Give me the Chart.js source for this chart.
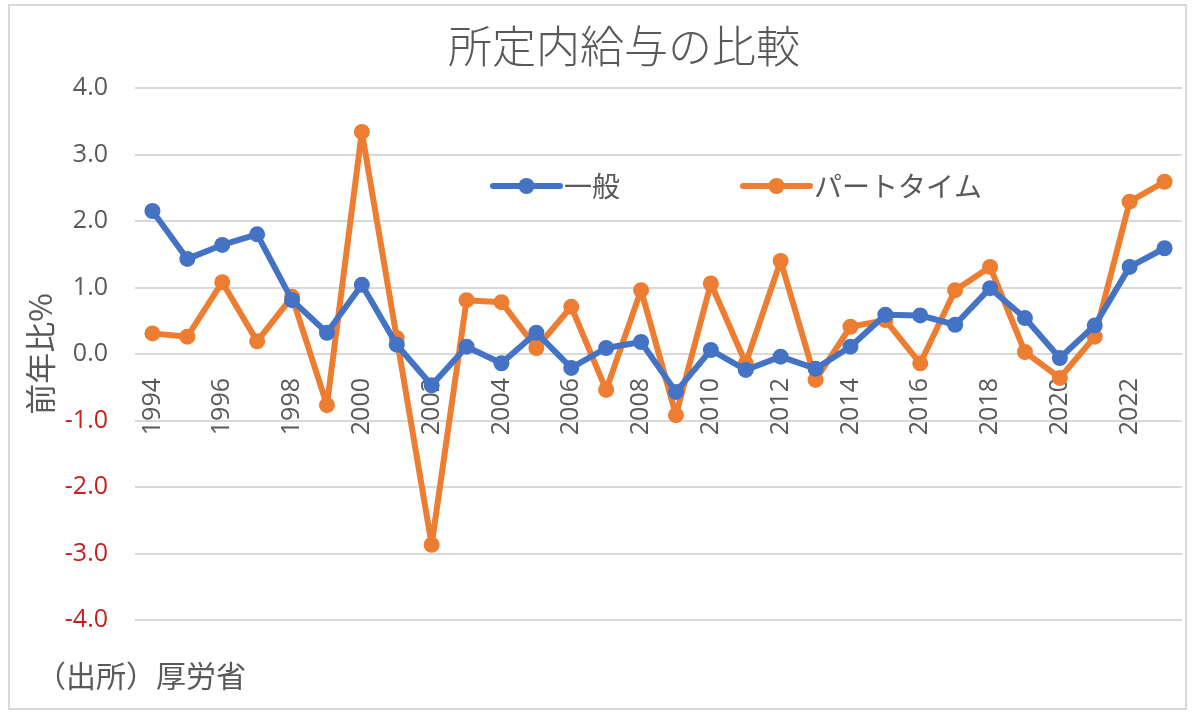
<!DOCTYPE html>
<html>
<head>
<meta charset="utf-8">
<script src="https://cdn.jsdelivr.net/npm/chart.js@4/dist/chart.umd.min.js"></script>
<style>
html,body{margin:0;padding:0;background:#fff;}
#wrap{width:1200px;height:715px;position:relative;}
</style>
</head>
<body>
<div id="wrap"><canvas id="c" width="1200" height="715"></canvas></div>
<script>
const years = ['1994','1995','1996','1997','1998','1999','2000','2001','2002','2003','2004','2005','2006','2007','2008','2009','2010','2011','2012','2013','2014','2015','2016','2017','2018','2019','2020','2021','2022','2023'];
const generalValues = [2.15,1.43,1.64,1.80,0.81,0.32,1.04,0.14,-0.47,0.11,-0.14,0.32,-0.21,0.09,0.18,-0.57,0.06,-0.24,-0.04,-0.22,0.11,0.59,0.58,0.44,0.99,0.54,-0.06,0.43,1.31,1.59];
const partValues = [0.31,0.26,1.08,0.19,0.86,-0.77,3.34,0.24,-2.87,0.81,0.78,0.09,0.71,-0.54,0.96,-0.92,1.06,-0.14,1.40,-0.39,0.41,0.51,-0.14,0.96,1.31,0.03,-0.36,0.26,2.29,2.59];
const seriesNames = ['一般','パートタイム'];
const shownYearLabels = ['1994','1996','1998','2000','2002','2004','2006','2008','2010','2012','2014','2016','2018','2020','2022'];
const titleText = '所定内給与の比較';
const yAxisTitle = '前年比%';
const sourceText = '（出所）厚労省';

const BLUE = '#4472C4', ORANGE = '#ED7D31', GRAY = '#595959', RED = '#C81E1E';
const JP = '"Noto Sans CJK JP","Noto Sans",sans-serif';
const NUM = '"Open Sans","Noto Sans",sans-serif';

const decor = {
  id: 'decor',
  beforeDraw(chart) {
    const ctx = chart.ctx;
    ctx.save();
    ctx.fillStyle = '#fff';
    ctx.fillRect(0, 0, chart.width, chart.height);
    ctx.strokeStyle = '#d9d9d9';
    ctx.lineWidth = 2;
    ctx.strokeRect(9, 5, 1177, 704);
    ctx.restore();
  },
  afterDraw(chart) {
    const ctx = chart.ctx;
    ctx.save();
    ctx.fillStyle = GRAY;
    ctx.textBaseline = 'middle';
    ctx.textAlign = 'center';
    ctx.font = '300 44px ' + JP;
    ctx.fillText(titleText, 624, 46);
    ctx.textAlign = 'left';
    ctx.font = '30px ' + JP;
    ctx.fillText(sourceText, 36, 676);
    // legend
    const items = [
      {name: seriesNames[0], color: BLUE, x: 493},
      {name: seriesNames[1], color: ORANGE, x: 743}
    ];
    items.forEach(it => {
      const y = 186;
      ctx.strokeStyle = it.color;
      ctx.lineWidth = 6;
      ctx.lineCap = 'round';
      ctx.beginPath();
      ctx.moveTo(it.x, y);
      ctx.lineTo(it.x + 67, y);
      ctx.stroke();
      ctx.fillStyle = it.color;
      ctx.beginPath();
      ctx.arc(it.x + 33.5, y, 8, 0, Math.PI * 2);
      ctx.fill();
      ctx.fillStyle = GRAY;
      ctx.font = '28px ' + JP;
      ctx.textAlign = 'left';
      ctx.fillText(it.name, it.x + 71, y);
    });
    ctx.restore();
  }
};

const lineStyle = {borderWidth: 6, pointRadius: 8, pointHoverRadius: 8, pointBorderWidth: 0, tension: 0, borderJoinStyle: 'round', borderCapStyle: 'round'};

new Chart(document.getElementById('c'), {
  type: 'line',
  data: {
    labels: years,
    datasets: [
      Object.assign({label: seriesNames[0], data: generalValues, borderColor: BLUE, backgroundColor: BLUE}, lineStyle),
      Object.assign({label: seriesNames[1], data: partValues, borderColor: ORANGE, backgroundColor: ORANGE}, lineStyle)
    ]
  },
  options: {
    responsive: false,
    animation: false,
    devicePixelRatio: 1,
    layout: {padding: {left: 10, right: 18, top: 88, bottom: 95}},
    plugins: {legend: {display: false}, title: {display: false}, tooltip: {enabled: false}},
    scales: {
      x: {
        position: {y: 0},
        offset: true,
        afterFit(scale) { scale.paddingLeft = 0; scale.paddingRight = 0; },
        grid: {display: false},
        border: {display: false},
        ticks: {
          autoSkip: false,
          minRotation: 90,
          maxRotation: 90,
          padding: 16,
          color: GRAY,
          font: {family: NUM, size: 25},
          callback: function(v) {
            const lab = this.getLabelForValue(v);
            return shownYearLabels.includes(lab) ? lab : '';
          }
        }
      },
      y: {
        min: -4, max: 4,
        afterFit(scale) { scale.width = 125; },
        grid: {color: '#d9d9d9', lineWidth: 2, drawTicks: false},
        border: {display: false},
        ticks: {
          stepSize: 1,
          padding: 27,
          font: {family: NUM, size: 25},
          color: ctx => ctx.tick.value < 0 ? RED : GRAY,
          callback: v => v.toFixed(1)
        },
        title: {display: true, text: yAxisTitle, color: GRAY, font: {family: JP, size: 31}, padding: {top: 12, bottom: 0}}
      }
    }
  },
  plugins: [decor]
});
</script>
</body>
</html>
